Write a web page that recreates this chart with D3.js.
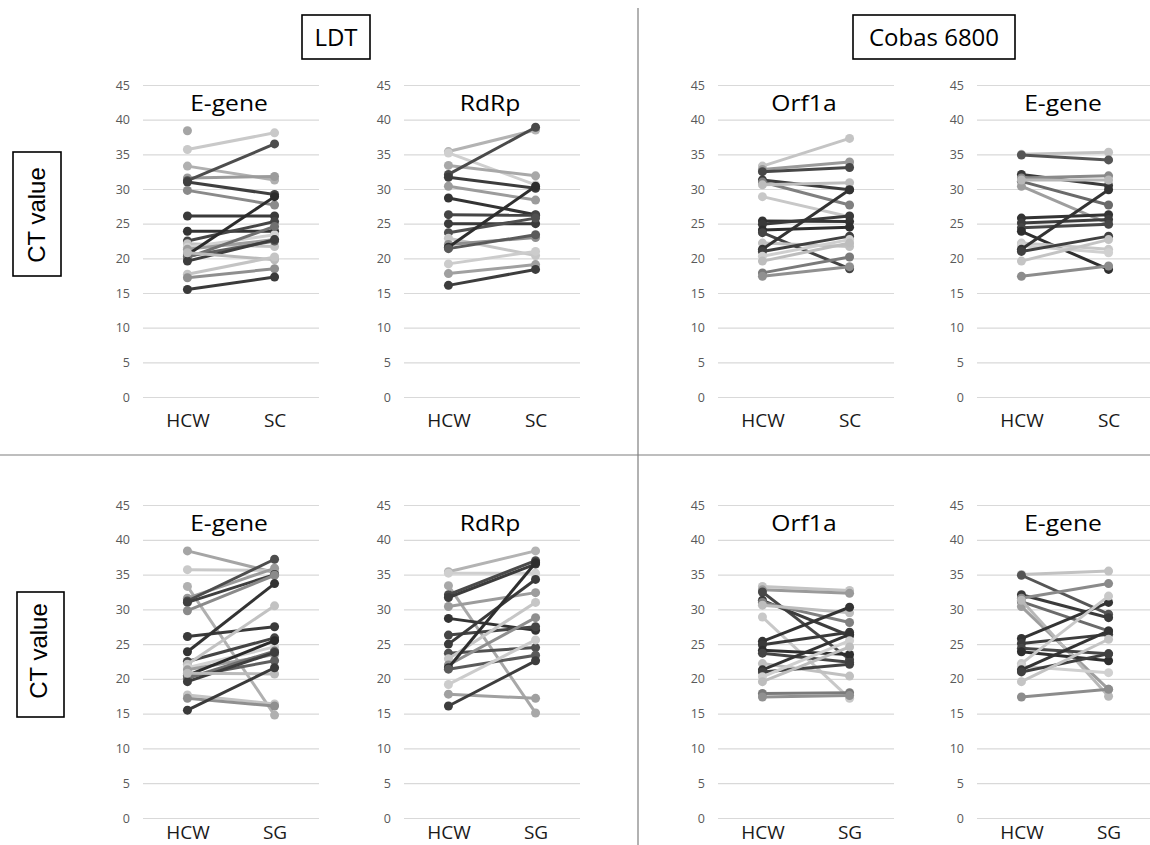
<!DOCTYPE html>
<html>
<head>
<meta charset="utf-8">
<script src="https://cdn.jsdelivr.net/npm/d3@7"></script>
<style>
  body { margin: 0; background: #fff; }
  svg { display: block; }
</style>
</head>
<body>
<div id="chart"></div>
<script>
// CT values, one entry per subject (same order across arrays)
const yTicks = [0, 5, 10, 15, 20, 25, 30, 35, 40, 45];

// LDT E-gene
const ldtEgeneHcw = [38.4, 35.7, 33.3, 31.6, 31.2, 31.0, 29.8, 26.1, 23.9, 22.5, 22.1, 21.6, 21.3, 20.5, 20.3, 20.1, 19.6, 20.8, 17.7, 17.2, 15.5];
const ldtEgeneSc  = [null, 38.1, 31.3, 31.8, 36.5, 29.2, 27.7, 26.1, 23.9, 25.3, 21.7, 23.4, 22.7, 28.9, 22.5, 24.6, 22.7, 19.8, 20.2, 18.5, 17.3];
const ldtEgeneSg  = [35.3, 35.6, 14.8, 35.9, 37.2, 35.0, 34.9, 27.5, 33.7, 25.9, 30.5, 24.6, 23.5, 25.5, 22.6, 24.0, 23.8, 20.7, 16.4, 16.1, 21.6];
const ldtEgeneShade = ["#a5a5a5", "#c9c9c9", "#b0b0b0", "#9b9b9b", "#4d4d4d", "#3f3f3f", "#8a8a8a", "#3a3a3a", "#333333", "#454545", "#c2c2c2",
                       "#d2d2d2", "#9e9e9e", "#2b2b2b", "#5e5e5e", "#707070", "#3d3d3d", "#bababa", "#c4c4c4", "#8f8f8f", "#3a3a3a"];

// LDT RdRp
const ldtRdrpHcw = [35.4, 35.2, 33.4, 32.1, 31.7, 30.4, 28.7, 26.3, 25.0, 23.7, 22.9, 22.0, 21.6, 21.4, 19.2, 17.8, 16.1];
const ldtRdrpSc  = [38.5, 30.6, 31.9, 38.9, 30.1, 28.4, 26.3, 26.2, 25.0, 25.8, 20.4, 23.0, 30.4, 23.4, 21.0, 19.1, 18.4];
const ldtRdrpSg  = [38.4, 35.2, 15.1, 37.0, 36.5, 32.4, 27.0, 27.5, 34.3, 24.5, 31.0, 28.8, 36.7, 23.4, 25.6, 17.2, 22.6];
const ldtRdrpShade = ["#b3b3b3", "#cfcfcf", "#a8a8a8", "#4a4a4a", "#3c3c3c", "#9c9c9c", "#333333", "#454545", "#3a3a3a", "#505050",
                      "#c6c6c6", "#8f8f8f", "#2e2e2e", "#5a5a5a", "#cccccc", "#a0a0a0", "#3d3d3d"];

// Cobas 6800 Orf1a
const cobasOrfHcw = [33.3, 32.8, 32.5, 31.3, 31.0, 30.6, 28.9, 25.4, 24.9, 24.1, 23.7, 22.2, 21.3, 21.0, 20.3, 19.6, 17.9, 17.4];
const cobasOrfSc  = [37.3, 33.9, 33.1, 29.9, 27.7, 30.9, 26.0, 25.3, 26.1, 24.5, 18.5, 21.7, 29.9, 23.2, 22.7, 22.2, 20.2, 18.8];
const cobasOrfSg  = [32.7, 32.3, 22.8, 26.2, 28.1, 29.5, 17.2, 30.3, 26.7, 23.5, 22.4, 20.4, 26.4, 22.1, 25.5, 24.6, 18.0, 17.6];
const cobasOrfShade = ["#c4c4c4", "#9a9a9a", "#474747", "#3d3d3d", "#808080", "#bdbdbd", "#c8c8c8", "#333333", "#3a3a3a", "#2e2e2e",
                       "#444444", "#c0c0c0", "#333333", "#404040", "#cfcfcf", "#bdbdbd", "#7a7a7a", "#909090"];

// Cobas 6800 E-gene
const cobasEgeneHcw = [35.0, 34.9, 32.1, 31.6, 31.1, 30.4, 31.3, 25.8, 25.1, 24.4, 23.9, 22.2, 21.8, 21.3, 21.0, 19.6, 17.4];
const cobasEgeneSc  = [35.3, 34.2, 30.5, 31.9, 27.7, 25.0, 31.3, 26.3, 25.6, 24.9, 18.4, 21.3, 20.8, 29.9, 23.2, 22.7, 18.9];
const cobasEgeneSg  = [35.5, 29.3, 28.8, 33.7, 26.9, 18.5, 17.5, 31.0, 26.4, 23.6, 22.6, 31.9, 20.9, 26.9, 23.6, 25.7, 18.5];
const cobasEgeneShade = ["#c2c2c2", "#555555", "#3a3a3a", "#8a8a8a", "#6a6a6a", "#9e9e9e", "#b8b8b8", "#333333", "#3d3d3d", "#474747",
                         "#2e2e2e", "#c8c8c8", "#d0d0d0", "#333333", "#404040", "#c4c4c4", "#8c8c8c"];

const groups = ["LDT", "Cobas 6800"];

// layout
const width = 1150, height = 845;
const plotW = 176;
const colLeft = [143, 404, 718, 977];
const rowTop = [85, 505];
const rowBottom = [397, 818];
const catPad = [16.5, 7.5];

const panels = [
  { col: 0, row: 0, title: "E-gene", hcw: ldtEgeneHcw, other: ldtEgeneSc, label: "SC", shade: ldtEgeneShade },
  { col: 1, row: 0, title: "RdRp", hcw: ldtRdrpHcw, other: ldtRdrpSc, label: "SC", shade: ldtRdrpShade },
  { col: 2, row: 0, title: "Orf1a", hcw: cobasOrfHcw, other: cobasOrfSc, label: "SC", shade: cobasOrfShade },
  { col: 3, row: 0, title: "E-gene", hcw: cobasEgeneHcw, other: cobasEgeneSc, label: "SC", shade: cobasEgeneShade },
  { col: 0, row: 1, title: "E-gene", hcw: ldtEgeneHcw, other: ldtEgeneSg, label: "SG", shade: ldtEgeneShade },
  { col: 1, row: 1, title: "RdRp", hcw: ldtRdrpHcw, other: ldtRdrpSg, label: "SG", shade: ldtRdrpShade },
  { col: 2, row: 1, title: "Orf1a", hcw: cobasOrfHcw, other: cobasOrfSg, label: "SG", shade: cobasOrfShade },
  { col: 3, row: 1, title: "E-gene", hcw: cobasEgeneHcw, other: cobasEgeneSg, label: "SG", shade: cobasEgeneShade },
];

const svg = d3.select("#chart")
  .append("svg")
  .attr("width", width)
  .attr("height", height)
  .style("font-family", "'Open Sans', sans-serif");

svg.append("rect")
  .attr("width", width)
  .attr("height", height)
  .attr("fill", "#fff");

// quadrant dividers
svg.append("line")
  .attr("x1", 638).attr("x2", 638)
  .attr("y1", 8).attr("y2", height)
  .attr("stroke", "#7f7f7f")
  .attr("stroke-width", 1.2);

svg.append("line")
  .attr("x1", 0).attr("x2", width)
  .attr("y1", 455).attr("y2", 455)
  .attr("stroke", "#7f7f7f")
  .attr("stroke-width", 1.2);

// group headers
const headerBoxes = [
  { x: 302, w: 68 },
  { x: 853, w: 162 },
];
groups.forEach((g, i) => {
  const b = headerBoxes[i];
  svg.append("rect")
    .attr("x", b.x).attr("y", 15)
    .attr("width", b.w).attr("height", 44)
    .attr("fill", "#fff")
    .attr("stroke", "#000")
    .attr("stroke-width", 1.6);
  svg.append("text")
    .attr("x", b.x + b.w / 2)
    .attr("y", 46)
    .attr("text-anchor", "middle")
    .style("font-size", "24px")
    .attr("fill", "#000")
    .text(g);
});

// y-axis titles
const yTitleBoxes = [
  { x: 13, y: 152, w: 48, h: 124, cx: 45, cy: 215 },
  { x: 17, y: 592, w: 47, h: 125, cx: 47, cy: 651 },
];
yTitleBoxes.forEach(b => {
  svg.append("rect")
    .attr("x", b.x).attr("y", b.y)
    .attr("width", b.w).attr("height", b.h)
    .attr("fill", "#fff")
    .attr("stroke", "#000")
    .attr("stroke-width", 1.6);
  svg.append("text")
    .attr("transform", `translate(${b.cx},${b.cy}) rotate(-90)`)
    .attr("text-anchor", "middle")
    .style("font-family", "'Liberation Sans', Arial, sans-serif")
    .style("font-size", "24px")
    .attr("fill", "#000")
    .text("CT value");
});

function drawPanel(p) {
  const left = colLeft[p.col];
  const y = d3.scaleLinear()
    .domain([0, 45])
    .range([rowBottom[p.row], rowTop[p.row]]);
  const x = d3.scalePoint()
    .domain(["HCW", p.label])
    .range([left, left + plotW])
    .padding(0.51);

  const g = svg.append("g");

  // gridlines + tick labels
  const yAxis = g.append("g")
    .attr("transform", `translate(${left},0)`)
    .call(d3.axisLeft(y).tickValues(yTicks).tickSizeInner(-plotW).tickSizeOuter(0).tickPadding(13));
  yAxis.select(".domain").remove();
  yAxis.selectAll(".tick line")
    .attr("stroke", "#d9d9d9")
    .attr("stroke-width", 1.2);
  yAxis.selectAll(".tick text")
    .attr("fill", "#595959")
    .style("font-family", "'Open Sans', sans-serif")
    .style("font-size", "12.5px");

  // category labels
  const xAxis = g.append("g")
    .attr("transform", `translate(0,${rowBottom[p.row]})`)
    .call(d3.axisBottom(x).tickSize(0).tickPadding(catPad[p.row]));
  xAxis.select(".domain").remove();
  xAxis.selectAll(".tick text")
    .attr("fill", "#1a1a1a")
    .style("font-family", "'Open Sans', sans-serif")
    .style("font-size", "19px");

  // title (slightly stretched like the source)
  g.append("text")
    .attr("transform", `translate(${left + plotW / 2 - 2},${rowTop[p.row] + 26}) scale(1.12,1)`)
    .attr("text-anchor", "middle")
    .style("font-size", "22px")
    .attr("fill", "#000")
    .text(p.title);

  // one series per subject
  const subjects = p.hcw.map((v, i) => ({
    shade: p.shade[i],
    points: [
      { cat: "HCW", v: v },
      { cat: p.label, v: p.other[i] },
    ].filter(d => d.v != null),
  }));

  const line = d3.line()
    .x(d => x(d.cat))
    .y(d => y(d.v));

  const series = g.append("g")
    .selectAll("g")
    .data(subjects)
    .enter()
    .append("g");

  series.append("path")
    .attr("d", d => line(d.points))
    .attr("fill", "none")
    .attr("stroke", d => d.shade)
    .attr("stroke-width", 3);

  series.selectAll("circle")
    .data(d => d.points.map(pt => ({ ...pt, shade: d.shade })))
    .enter()
    .append("circle")
    .attr("cx", d => x(d.cat))
    .attr("cy", d => y(d.v))
    .attr("r", 4.5)
    .attr("fill", d => d.shade);
}

panels.forEach(drawPanel);
</script>
</body>
</html>
